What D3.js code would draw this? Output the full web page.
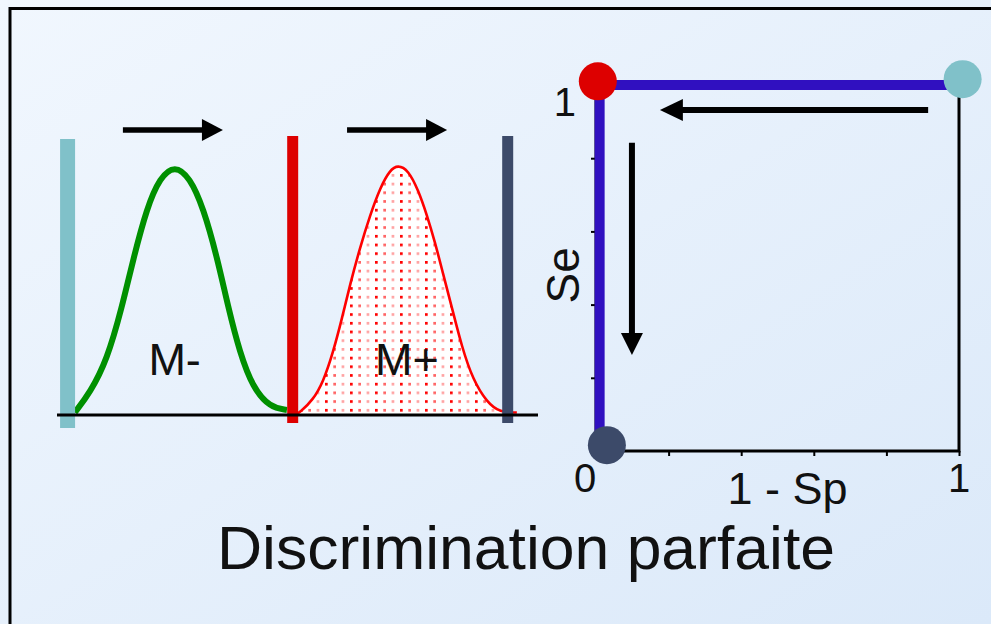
<!DOCTYPE html>
<html>
<head>
<meta charset="utf-8">
<script src="https://cdn.jsdelivr.net/npm/d3@7"></script>
<style>
  html, body { margin: 0; padding: 0; overflow: hidden; }
  svg { display: block; font-family: "Liberation Sans", Arial, sans-serif; }
</style>
</head>
<body>
<svg id="chart" width="991" height="624"></svg>
<script>
// ---------- Data ----------
// Left panel: marker distributions (x = marker value, y = relative density)
const mNegX = [0.37, 0.69, 1.04, 1.35, 1.58, 1.87, 2.14, 2.45, 2.76, 3.04, 3.33, 3.56, 3.80, 4.07, 4.43, 4.78];
const mNegY = [0.01, 0.09, 0.22, 0.43, 0.62, 0.83, 0.95, 1.00, 0.95, 0.83, 0.63, 0.43, 0.25, 0.11, 0.03, 0.02];
const mPosX = [4.95, 5.05, 5.32, 5.53, 5.74, 5.93, 6.09, 6.30, 6.51, 6.72, 6.92, 7.09, 7.30, 7.51, 7.69, 7.86, 8.02, 8.21, 8.42, 8.65, 8.94, 9.21, 9.56];
const mPosY = [0.00, 0.01, 0.06, 0.13, 0.25, 0.39, 0.52, 0.67, 0.80, 0.91, 0.98, 1.00, 0.98, 0.90, 0.80, 0.69, 0.57, 0.43, 0.27, 0.14, 0.05, 0.01, 0.01];
const groupLabels = ["M-", "M+"];
const groupLabelX = [1.90, 6.61];
// Thresholds (vertical bars)
const thresholdX = [0.22, 4.90, 9.37];
const thresholdTop = [1.104, 1.116, 1.116];
const thresholdBottom = [-0.052, -0.032, -0.032];
const thresholdColors = ["#80c1c9", "#dd0000", "#3c4a69"];
// Arrows above the distributions
const arrowStartX = [1.37, 6.03];
const arrowEndX = [3.45, 8.11];
const arrowY = 1.14;

// Right panel: ROC space
const rocX = [0.01, 0.01, 1.0];
const rocY = [0.0, 1.0, 1.0];
const rocPointX = [0.005, 1.01, 0.03];
const rocPointY = [1.01, 1.016, 0.016];
const rocPointColors = ["#dd0000", "#80c1c9", "#3c4a69"];
const xTicks = [0.2, 0.4, 0.6, 0.8, 1.0];
const yTicks = [0.2, 0.4, 0.6, 0.8];
const xTickLabels = ["0", "1"];
const yTickLabels = ["1"];
const xAxisTitle = "1 - Sp";
const yAxisTitle = "Se";
// ROC arrows (data units)
const rocArrowH = { x1: 0.915, y1: 0.932, x2: 0.176, y2: 0.932 };
const rocArrowV = { x1: 0.099, y1: 0.842, x2: 0.099, y2: 0.262 };

const title = "Discrimination parfaite";

// ---------- Drawing ----------
const svg = d3.select("#chart");
const defs = svg.append("defs");

const bg = defs.append("linearGradient").attr("id", "bg")
  .attr("x1", "0%").attr("y1", "0%").attr("x2", "100%").attr("y2", "100%");
bg.append("stop").attr("offset", "0%").attr("stop-color", "#f1f7fe");
bg.append("stop").attr("offset", "100%").attr("stop-color", "#dbe9f9");

const pat = defs.append("pattern").attr("id", "dots")
  .attr("patternUnits", "userSpaceOnUse")
  .attr("width", 25).attr("height", 8.7);
pat.append("rect").attr("width", 25).attr("height", 8.7).attr("fill", "#ffffff");
pat.append("rect").attr("x", 0).attr("y", 0).attr("width", 2.7).attr("height", 2.7).attr("fill", "#ff0000");
pat.append("rect").attr("x", 8.3).attr("y", 0).attr("width", 2.7).attr("height", 2.7).attr("fill", "#ff6464");
pat.append("rect").attr("x", 16.6).attr("y", 0).attr("width", 2.7).attr("height", 2.7).attr("fill", "#ffa4a4");

svg.append("rect").attr("width", 991).attr("height", 624).attr("fill", "url(#bg)");
// frame (top and left visible; right/bottom outside the picture)
svg.append("rect").attr("x", 10).attr("y", 8.5).attr("width", 1000).attr("height", 700)
  .attr("fill", "none").attr("stroke", "#000").attr("stroke-width", 3);

// Left panel scales
const xd = d3.scaleLinear().domain([0, 10]).range([57, 538]);
const yd = d3.scaleLinear().domain([0, 1]).range([415, 165]);

const negData = mNegX.map((x, i) => [x, mNegY[i]]);
const posData = mPosX.map((x, i) => [x, mPosY[i]]);

const area = d3.area().x(d => xd(d[0])).y0(yd(0)).y1(d => yd(d[1])).curve(d3.curveBasis);
const line = d3.line().x(d => xd(d[0])).y(d => yd(d[1])).curve(d3.curveBasis);

svg.append("path").attr("d", area(posData)).attr("fill", "url(#dots)");
svg.append("path").attr("d", line(posData)).attr("fill", "none")
  .attr("stroke", "#ff0000").attr("stroke-width", 2.6);
svg.append("path").attr("d", line(negData)).attr("fill", "none")
  .attr("stroke", "#009000").attr("stroke-width", 6);

const barW = [15, 11, 11];
svg.selectAll("rect.thr").data(thresholdX).join("rect").attr("class", "thr")
  .attr("x", (d, i) => xd(d) - barW[i] / 2)
  .attr("width", (d, i) => barW[i])
  .attr("y", (d, i) => yd(thresholdTop[i]))
  .attr("height", (d, i) => yd(thresholdBottom[i]) - yd(thresholdTop[i]))
  .attr("fill", (d, i) => thresholdColors[i]);

// baseline
svg.append("line").attr("x1", xd(0)).attr("x2", xd(10)).attr("y1", yd(0)).attr("y2", yd(0))
  .attr("stroke", "#000").attr("stroke-width", 3);

svg.selectAll("text.grp").data(groupLabels).join("text").attr("class", "grp")
  .attr("x", (d, i) => xd(groupLabelX[i])).attr("y", 375)
  .attr("font-size", 45).attr("fill", "#111").text(d => d);

function arrow(x1, y1, x2, y2, head = 21, half = 11, w = 5.5) {
  const dx = x2 - x1, dy = y2 - y1, L = Math.hypot(dx, dy);
  const ux = dx / L, uy = dy / L;
  const bx = x2 - ux * head, by = y2 - uy * head;
  svg.append("line").attr("x1", x1).attr("y1", y1).attr("x2", bx + ux * 2).attr("y2", by + uy * 2)
    .attr("stroke", "#000").attr("stroke-width", w);
  svg.append("path")
    .attr("d", `M${x2},${y2} L${bx - uy * half},${by + ux * half} L${bx + uy * half},${by - ux * half} Z`)
    .attr("fill", "#000");
}
arrowStartX.forEach((s, i) => arrow(xd(s), yd(arrowY), xd(arrowEndX[i]), yd(arrowY)));

// Right panel scales
const xr = d3.scaleLinear().domain([0, 1]).range([596, 959]);
const yr = d3.scaleLinear().domain([0, 1]).range([451, 85]);

// frame
svg.append("rect").attr("x", xr(0)).attr("y", yr(1)).attr("width", xr(1) - xr(0)).attr("height", yr(0) - yr(1))
  .attr("fill", "none").attr("stroke", "#000").attr("stroke-width", 3);

const gx = svg.append("g").attr("transform", `translate(0,${yr(0)})`)
  .call(d3.axisBottom(xr).tickValues(xTicks).tickSize(5).tickFormat(""));
gx.select(".domain").remove();
gx.selectAll(".tick line").attr("stroke", "#000").attr("stroke-width", 2);
const gy = svg.append("g").attr("transform", `translate(${xr(0)},0)`)
  .call(d3.axisLeft(yr).tickValues(yTicks).tickSize(5).tickFormat(""));
gy.select(".domain").remove();
gy.selectAll(".tick line").attr("stroke", "#000").attr("stroke-width", 2);

// tick labels
svg.append("text").attr("x", xr(0) - 11).attr("y", 492).attr("text-anchor", "middle")
  .attr("font-size", 40).attr("fill", "#111").text(xTickLabels[0]);
svg.append("text").attr("x", xr(1)).attr("y", 492).attr("text-anchor", "middle")
  .attr("font-size", 40).attr("fill", "#111").text(xTickLabels[1]);
svg.append("text").attr("x", xr(0) - 20).attr("y", yr(1) + 31).attr("text-anchor", "end")
  .attr("font-size", 40).attr("fill", "#111").text(yTickLabels[0]);

svg.append("text").attr("x", (xr(0) + xr(1)) / 2 + 10).attr("y", 504).attr("text-anchor", "middle")
  .attr("font-size", 45).attr("fill", "#111").text(xAxisTitle);
svg.append("text").attr("transform", `translate(579,${yr(0.48)}) rotate(-90)`).attr("text-anchor", "middle")
  .attr("font-size", 46).attr("fill", "#111").text(yAxisTitle);

// ROC path
const rocLine = d3.line().x(d => xr(d[0])).y(d => yr(d[1]));
svg.append("path").attr("d", rocLine(rocX.map((x, i) => [x, rocY[i]])))
  .attr("fill", "none").attr("stroke", "#3010c0").attr("stroke-width", 10);

// arrows
arrow(xr(rocArrowH.x1), yr(rocArrowH.y1), xr(rocArrowH.x2), yr(rocArrowH.y2), 23, 11, 6);
arrow(xr(rocArrowV.x1), yr(rocArrowV.y1), xr(rocArrowV.x2), yr(rocArrowV.y2), 22, 11, 6);

svg.selectAll("circle.pt").data(rocPointX).join("circle").attr("class", "pt")
  .attr("cx", d => xr(d)).attr("cy", (d, i) => yr(rocPointY[i])).attr("r", 19)
  .attr("fill", (d, i) => rocPointColors[i]);

// title
svg.append("text").attr("x", 217).attr("y", 569).attr("font-size", 61)
  .attr("textLength", 618).attr("lengthAdjust", "spacingAndGlyphs")
  .attr("fill", "#111").text(title);
</script>
</body>
</html>
